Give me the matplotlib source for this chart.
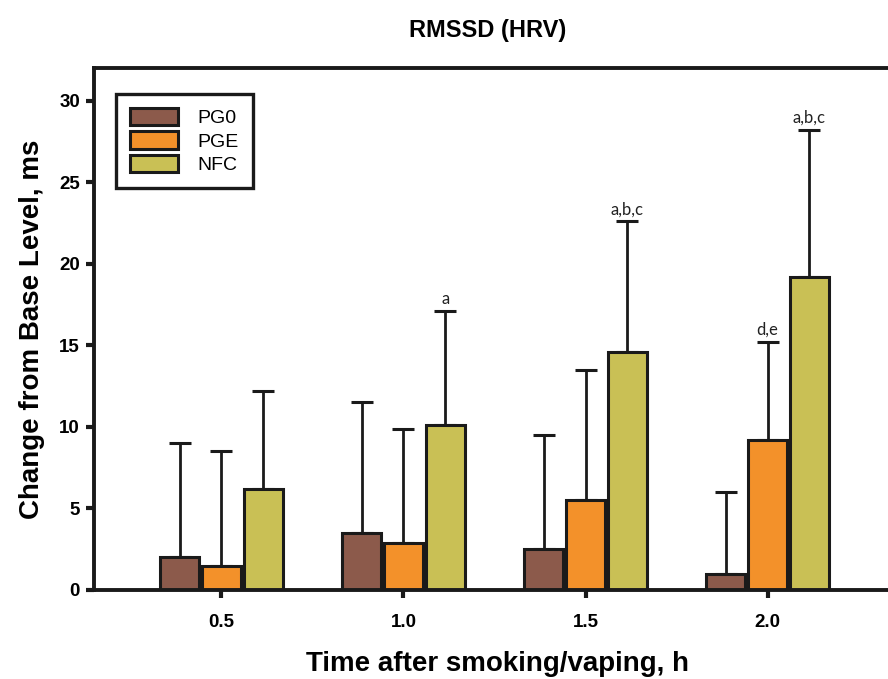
import numpy as np
import matplotlib
matplotlib.use("Agg")
import matplotlib.pyplot as plt

plt.rcParams['font.family'] = ['Liberation Sans', 'DejaVu Sans']

# data
times = ["0.5", "1.0", "1.5", "2.0"]
groups = ["PG0", "PGE", "NFC"]
pg0_mean = [2.0, 3.5, 2.5, 1.0]
pge_mean = [1.5, 2.9, 5.5, 9.2]
nfc_mean = [6.2, 10.1, 14.6, 19.2]
pg0_top = [9.0, 11.5, 9.5, 6.0]     # top of error bar
pge_top = [8.5, 9.9, 13.5, 15.2]
nfc_top = [12.2, 17.1, 22.6, 28.2]
pge_notes = ["", "", "", "d,e"]
nfc_notes = ["", "a", "a,b,c", "a,b,c"]

colors = ["#8C5A4B", "#F3912A", "#C9C055"]

fig = plt.figure(figsize=(8.88, 6.79), dpi=100)
# axes runs a little past the right edge, like the cropped original
ax = fig.add_axes([94 / 888, 1 - 590 / 679, 801 / 888, 522 / 679])

x = np.arange(len(times))
w = 0.215
off = 0.23
means = [pg0_mean, pge_mean, nfc_mean]
tops = [pg0_top, pge_top, nfc_top]

for i, (m, t, c, name) in enumerate(zip(means, tops, colors, groups)):
    xs = x + (i - 1) * off
    m = np.array(m)
    t = np.array(t)
    ax.errorbar(xs, m, yerr=[np.zeros_like(m), t - m], fmt="none",
                ecolor="#1a1a1a", elinewidth=2.0, capsize=8, capthick=2.2, zorder=1)
    ax.bar(xs, m, width=w, color=c, edgecolor="#1a1a1a", linewidth=2.2,
           label=name, zorder=2)

for i, (tops_, notes) in enumerate([(pge_top, pge_notes), (nfc_top, nfc_notes)]):
    for j, txt in enumerate(notes):
        if txt:
            ax.text(x[j] + i * off, tops_[j] + 0.25, txt, ha="center", va="bottom",
                    fontsize=12, family=["Lato", "DejaVu Sans"], color="#222222")

ax.set_xlim(-0.7, 3.7)
ax.set_ylim(0, 32)
ax.set_xticks(x)
ax.set_xticklabels(times)
ax.set_yticks(range(0, 31, 5))
ax.tick_params(direction="out", length=6, width=3, labelsize=13.5, pad=11,
               color="#1a1a1a")
ax.tick_params(axis="y", pad=4)
for lab in ax.get_xticklabels() + ax.get_yticklabels():
    lab.set_fontweight("bold")
for s in ax.spines.values():
    s.set_linewidth(2.8)
    s.set_color("#1a1a1a")

ax.set_ylabel("Change from Base Level, ms", fontsize=20, fontweight="bold", labelpad=10)
fig.text(497 / 888, 1 - 664 / 679, "Time after smoking/vaping, h", ha="center", va="center",
         fontsize=20, fontweight="bold")
fig.text(488 / 888, 1 - 31 / 679, "RMSSD (HRV)", ha="center", va="center",
         fontsize=17, fontweight="bold")

leg = ax.legend(loc="upper left", bbox_to_anchor=(22 / 801, 1 - 26 / 522), fontsize=14,
                frameon=True, fancybox=False, edgecolor="#1a1a1a", handlelength=2.5,
                handleheight=1.0, labelspacing=0.22, handletextpad=1.0, borderpad=0.7,
                borderaxespad=0)
leg.get_frame().set_linewidth(2.4)
leg.get_frame().set_alpha(1)
for p in leg.get_patches():
    p.set_linewidth(2.2)

fig.savefig("out.png", dpi=100)
